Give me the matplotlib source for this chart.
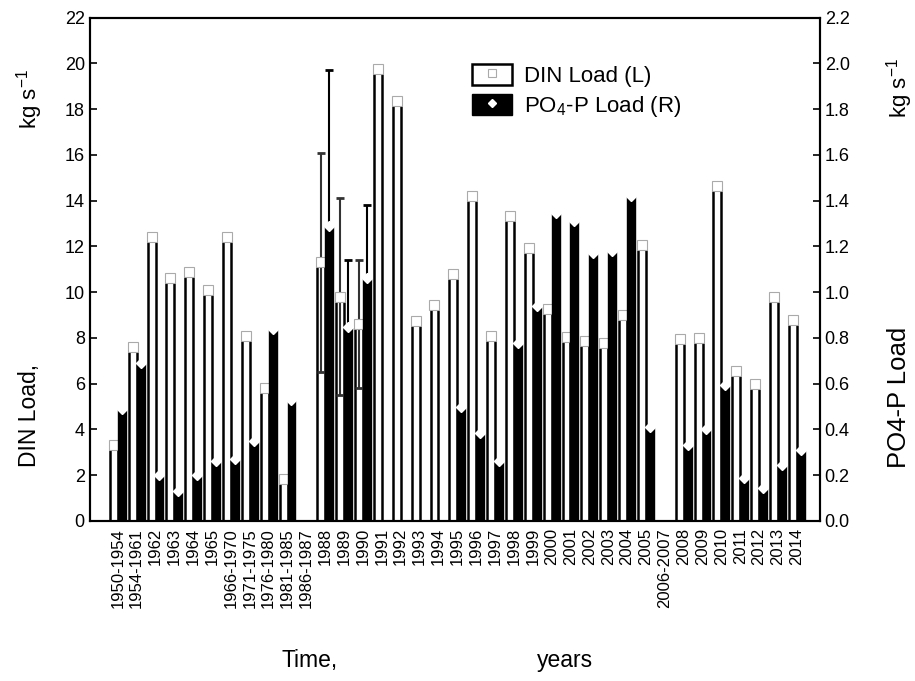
import numpy as np
import matplotlib.pyplot as plt
from matplotlib.patches import Patch
from matplotlib.lines import Line2D

plt.rcParams['font.family'] = ['Liberation Sans', 'DejaVu Sans']
plt.rcParams['mathtext.default'] = 'regular'

# периоды / годы
cats = ['1950-1954', '1954-1961', '1962', '1963', '1964', '1965', '1966-1970',
        '1971-1975', '1976-1980', '1981-1985', '1986-1987', '1988', '1989',
        '1990', '1991', '1992', '1993', '1994', '1995', '1996', '1997', '1998',
        '1999', '2000', '2001', '2002', '2003', '2004', '2005', '2006-2007',
        '2008', '2009', '2010', '2011', '2012', '2013', '2014']

nan = np.nan
# DIN, kg/s (левая ось)
din = [3.3, 7.6, 12.4, 10.6, 10.9, 10.1, 12.4, 8.1, 5.8, 1.85, nan,
       11.3, 9.8, 8.6, 19.75, 18.35, 8.75, 9.45, 10.8, 14.2, 8.1, 13.35,
       11.95, 9.25, 8.05, 7.85, 7.8, 9.0, 12.05, nan,
       7.95, 8.0, 14.65, 6.55, 6.0, 9.8, 8.8]
# PO4-P, kg/s (правая ось)
po4 = [0.49, 0.69, 0.2, 0.13, 0.2, 0.26, 0.27, 0.35, 0.84, 0.53, nan,
       1.29, 0.85, 1.06, nan, nan, nan, nan, 0.5, 0.385, 0.26, 0.78,
       0.94, 1.345, 1.31, 1.17, 1.18, 1.42, 0.41, nan,
       0.33, 0.40, 0.595, 0.19, 0.145, 0.245, 0.31]

# погрешности 1988-1990
err_cats = ['1988', '1989', '1990']
din_err = [4.8, 4.3, 2.8]
po4_err = [0.68, 0.29, 0.32]

x = np.arange(len(cats))
w = 0.42
din = np.array(din)
po4 = np.array(po4)

fig = plt.figure(figsize=(9.15, 6.81), dpi=100)
ax = fig.add_axes([0.098, 0.235, 0.798, 0.739])
ax2 = ax.twinx()

ax.bar(x - w / 2, din, width=w, color='white', edgecolor='black', linewidth=1.8, zorder=2)
ax2.bar(x + w / 2, po4, width=w, color='black', edgecolor='black', linewidth=1.0, zorder=2)

ie = [cats.index(c) for c in err_cats]
ax.errorbar(x[ie] - w / 2, din[ie], yerr=din_err, fmt='none', ecolor='#333333',
            elinewidth=1.5, capsize=3, capthick=2, zorder=3)
ax2.errorbar(x[ie] + w / 2, po4[ie], yerr=po4_err, fmt='none', ecolor='black',
             elinewidth=1.5, capsize=3, capthick=2, zorder=3)

ax.plot(x - w / 2, din, ls='none', marker='s', ms=7, mfc='white', mec='#aaaaaa', mew=0.8, zorder=4)
ax2.plot(x + w / 2, po4, ls='none', marker='D', ms=5, mfc='white', mec='white', zorder=4)

ax.set_xlim(-1.49, 37.22)
ax.set_ylim(0, 22)
ax2.set_ylim(0, 2.2)
ax.set_yticks(np.arange(0, 23, 2))
ax2.set_yticks(np.arange(0, 2.21, 0.2))
ax2.set_yticklabels([f'{v:.1f}' for v in np.arange(0, 2.21, 0.2)])

ax.set_xticks(x)
ax.set_xticklabels(cats, rotation=90, fontsize=12)
ax.tick_params(axis='x', which='major', length=0, pad=5)
ax.set_xticks(np.arange(0, len(cats), 2), minor=True)
ax.tick_params(axis='x', which='minor', direction='in', top=True, bottom=True, length=5, width=1.2)
ax.tick_params(axis='y', direction='in', length=5, width=1.2, labelsize=13)
ax2.tick_params(axis='y', direction='in', length=5, width=1.2, labelsize=13)

for a in (ax, ax2):
    for s in a.spines.values():
        s.set_linewidth(1.5)

fig.text(0.032, 0.39, 'DIN Load,', rotation=90, ha='center', va='center', fontsize=16.5)
fig.text(0.032, 0.855, 'kg s$^{-1}$', rotation=90, ha='center', va='center', fontsize=16)
fig.text(0.983, 0.416, 'PO4-P Load', rotation=90, ha='center', va='center', fontsize=18.5)
fig.text(0.983, 0.87, 'kg s$^{-1}$', rotation=90, ha='center', va='center', fontsize=16)
fig.text(0.338, 0.03, 'Time,', ha='center', va='center', fontsize=16.5)
fig.text(0.617, 0.03, 'years', ha='center', va='center', fontsize=16.5)

h1 = (Patch(facecolor='white', edgecolor='black', linewidth=1.8),
      Line2D([], [], ls='none', marker='s', ms=6, mfc='white', mec='#aaaaaa', mew=0.8))
h2 = (Patch(facecolor='black', edgecolor='black'),
      Line2D([], [], ls='none', marker='D', ms=4, mfc='white', mec='white'))
ax2.legend([h1, h2], ['DIN Load (L)', 'PO$_4$-P Load (R)'], loc='upper left',
           bbox_to_anchor=(0.508, 0.93), frameon=False, fontsize=16,
           handlelength=1.8, handleheight=1.1, handletextpad=0.55,
           labelspacing=0.3, borderpad=0)

plt.savefig('out.png', dpi=100)
